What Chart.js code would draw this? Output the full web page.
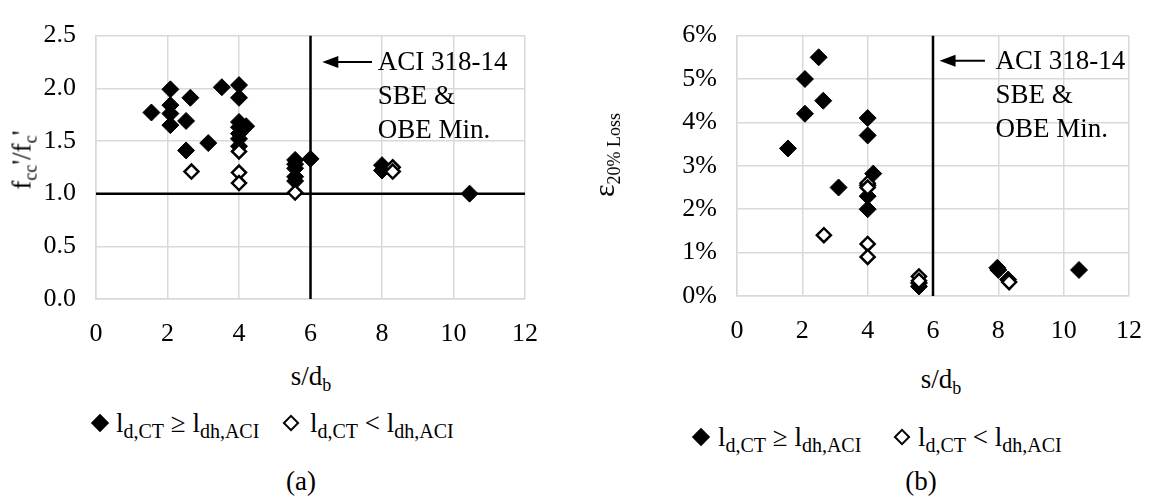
<!DOCTYPE html>
<html><head><meta charset="utf-8">
<script src="https://cdn.jsdelivr.net/npm/chart.js@4/dist/chart.umd.min.js"></script>
<style>
html,body{margin:0;padding:0;background:#fff;}
#wrap{position:relative;width:1162px;height:502px;background:#fff;font-family:'Liberation Serif','Times New Roman',serif;color:#000;overflow:hidden;}
canvas{position:absolute;top:0;}
.t{position:absolute;white-space:nowrap;font-size:27px;line-height:1;}
.t sub{font-size:18px;vertical-align:-6px;}
.rot{transform:translate(-50%,-50%) rotate(-90deg);}
.ctr{transform:translate(-50%,-50%);}
.lg{position:absolute;white-space:nowrap;font-size:27px;line-height:1;transform:translateY(-50%);}
.lg sub{font-size:20px;vertical-align:-6px;}
.dia{position:absolute;width:13px;height:13px;transform:translate(-50%,-50%) rotate(45deg);box-sizing:border-box;}
.dia.f{background:#000;}
.dia.o{background:#fff;border:2.5px solid #000;width:12px;height:12px;}
</style></head>
<body>
<div id="wrap">
<canvas id="ca" width="581" height="352" style="left:0"></canvas>
<canvas id="cb" width="581" height="352" style="left:581px"></canvas>

<div class="t rot" style="left:24px;top:160px;">f<sub>cc</sub>'/f<sub>c</sub>'</div>
<div class="t ctr" style="left:311px;top:378px;">s/d<sub>b</sub></div>
<div class="t rot" style="left:606px;top:155px;font-size:30px;">&epsilon;<sub>20% Loss</sub></div>
<div class="t ctr" style="left:941px;top:381px;">s/d<sub>b</sub></div>

<div class="dia f" style="left:100px;top:423px;"></div>
<div class="lg" style="left:116px;top:425px;">l<sub>d,CT</sub> &ge; l<sub>dh,ACI</sub></div>
<div class="dia o" style="left:291px;top:423px;"></div>
<div class="lg" style="left:310px;top:425px;">l<sub>d,CT</sub> &lt; l<sub>dh,ACI</sub></div>

<div class="dia f" style="left:701px;top:437px;"></div>
<div class="lg" style="left:718px;top:439px;">l<sub>d,CT</sub> &ge; l<sub>dh,ACI</sub></div>
<div class="dia o" style="left:902px;top:437px;"></div>
<div class="lg" style="left:918px;top:439px;">l<sub>d,CT</sub> &lt; l<sub>dh,ACI</sub></div>

<div class="t ctr" style="left:301px;top:481px;">(a)</div>
<div class="t ctr" style="left:921px;top:481px;">(b)</div>
</div>
<script>
// ---- Data (panel a) ----
const aFilledX = [1.55, 2.08, 2.08, 2.08, 2.08, 2.52, 2.64, 2.52, 3.14, 3.52, 4.0, 4.0, 4.0, 4.0, 4.0, 4.0, 4.0, 4.2, 5.57, 5.57, 5.57, 5.57, 5.57, 6.0, 8.0, 8.0, 10.45];
const aFilledY = [1.77, 1.99, 1.84, 1.76, 1.65, 1.69, 1.91, 1.41, 1.48, 2.01, 2.03, 1.91, 1.68, 1.63, 1.57, 1.52, 1.45, 1.64, 1.32, 1.28, 1.24, 1.16, 1.12, 1.33, 1.27, 1.22, 1.0];
const aOpenX = [2.67, 4.0, 4.0, 4.0, 5.57, 8.3, 8.3];
const aOpenY = [1.21, 1.40, 1.20, 1.10, 1.01, 1.25, 1.21];
// ---- Data (panel b), values in % ----
const bFilledX = [1.56, 2.08, 2.08, 2.5, 2.64, 3.11, 4.0, 4.0, 4.17, 4.0, 4.0, 4.0, 5.57, 5.57, 7.97, 8.0, 8.3, 10.47];
const bFilledY = [3.4, 5.0, 4.2, 5.5, 4.5, 2.5, 4.1, 3.7, 2.82, 2.55, 2.3, 2.0, 0.3, 0.22, 0.65, 0.6, 0.38, 0.6];
const bOpenX = [2.66, 4.0, 4.0, 4.0, 4.0, 5.57, 5.57, 8.33];
const bOpenY = [1.4, 2.6, 2.5, 1.2, 0.9, 0.45, 0.35, 0.32];
// ---- Reference lines / annotation ----
const aciLimit = 6;        // s/d_b
const unityRatio = 1.0;    // f'cc/f'c
const annLines = ['ACI 318-14', 'SBE &', 'OBE Min.'];

const FAM = "'Liberation Serif', 'Times New Roman', serif";
const pts = (xs, ys) => xs.map((x, i) => ({x, y: ys[i]}));

function annotPlugin(arrowX0, arrowX1, arrowY, textX) {
  return {
    id: 'aci',
    afterDatasetsDraw(chart) {
      const {ctx, scales: {x, y}} = chart;
      const px0 = x.getPixelForValue(arrowX0), px1 = x.getPixelForValue(arrowX1);
      const py = y.getPixelForValue(arrowY);
      ctx.save();
      ctx.strokeStyle = '#000'; ctx.fillStyle = '#000'; ctx.lineWidth = 2;
      ctx.beginPath(); ctx.moveTo(px0 + 12, py); ctx.lineTo(px1, py); ctx.stroke();
      ctx.beginPath(); ctx.moveTo(px0, py); ctx.lineTo(px0 + 16, py - 6); ctx.lineTo(px0 + 16, py + 6); ctx.closePath(); ctx.fill();
      ctx.font = '27px ' + FAM; ctx.textBaseline = 'middle'; ctx.textAlign = 'left';
      const tx = x.getPixelForValue(textX);
      annLines.forEach((s, i) => ctx.fillText(s, tx, py + 1 + i * 34));
      ctx.restore();
    }
  };
}

function makeChart(id, cfg) {
  const grid = {color: '#d9d9d9', lineWidth: 1.5, drawTicks: false};
  return new Chart(document.getElementById(id), {
    type: 'scatter',
    data: {datasets: [
      {data: pts(cfg.openX, cfg.openY), pointStyle: 'rectRot', pointRadius: 7, pointBackgroundColor: '#fff', pointBorderColor: '#000', pointBorderWidth: 2.5, order: 0},
      {data: pts(cfg.filledX, cfg.filledY), pointStyle: 'rectRot', pointRadius: 8.5, pointBackgroundColor: '#000', pointBorderColor: '#000', pointBorderWidth: 1, order: 1},
      ...cfg.lines.map(l => ({type: 'line', data: l, borderColor: '#000', borderWidth: 2.5, pointRadius: 0, showLine: true, order: 5}))
    ]},
    options: {
      responsive: false, animation: false, devicePixelRatio: 1,
      layout: {padding: cfg.pad},
      plugins: {legend: {display: false}, tooltip: {enabled: false}},
      scales: {
        x: {type: 'linear', min: 0, max: 12, grid, border: {color: '#d9d9d9', width: 1.5},
            ticks: {stepSize: 2, padding: 20, color: '#000', font: {family: FAM, size: 26}},
            afterFit: s => { s.height = cfg.xh; }},
        y: {type: 'linear', min: 0, max: cfg.ymax, grid, border: {color: '#d9d9d9', width: 1.5},
            ticks: {stepSize: cfg.ystep, padding: 20, color: '#000', font: {family: FAM, size: 26}, callback: cfg.fmt},
            afterFit: s => { s.width = cfg.yw; }}
      }
    },
    plugins: [cfg.plugin]
  });
}

function build() {
  Chart.defaults.font.family = FAM;
  makeChart('ca', {
    filledX: aFilledX, filledY: aFilledY, openX: aOpenX, openY: aOpenY,
    lines: [[{x: 0, y: unityRatio}, {x: 12, y: unityRatio}], [{x: aciLimit, y: 0}, {x: aciLimit, y: 2.5}]],
    pad: {left: 0, right: 56, top: 24, bottom: 0}, xh: 53, yw: 96,
    ymax: 2.5, ystep: 0.5, fmt: v => v.toFixed(1),
    plugin: annotPlugin(6.33, 7.72, 2.25, 7.88)
  });
  makeChart('cb', {
    filledX: bFilledX, filledY: bFilledY, openX: bOpenX, openY: bOpenY,
    lines: [[{x: aciLimit, y: 0}, {x: aciLimit, y: 6}]],
    pad: {left: 0, right: 17, top: 16, bottom: 0}, xh: 56, yw: 156,
    ymax: 6, ystep: 1, fmt: v => Math.round(v) + '%',
    plugin: annotPlugin(6.2, 7.59, 5.42, 7.91)
  });
}
if (document.fonts && document.fonts.load) {
  document.fonts.load("26px 'Liberation Serif'").then(build, build);
} else { build(); }
</script>
</body></html>
